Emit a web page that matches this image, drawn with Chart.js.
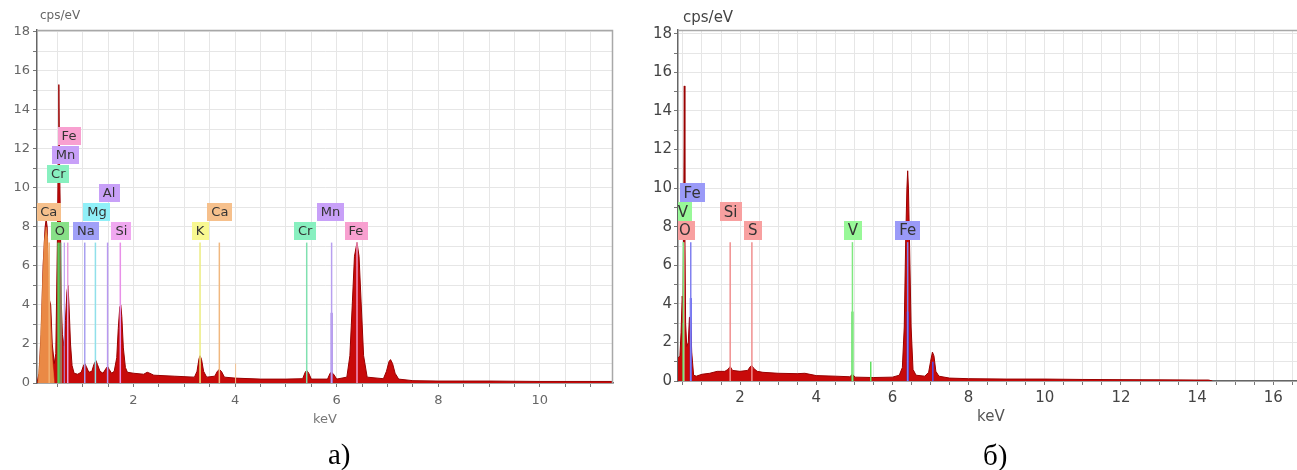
<!DOCTYPE html>
<html>
<head>
<meta charset="utf-8">
<script src="https://cdn.jsdelivr.net/npm/chart.js@4.4.1/dist/chart.umd.min.js"></script>
<style>
  html, body { margin: 0; padding: 0; background: #fff; overflow: hidden; width: 1297px; height: 470px; }
  .panel { position: absolute; top: 0; height: 430px; }
  #boxA { left: 0; width: 640px; }
  #boxB { left: 645px; width: 660px; }
  .txt { position: absolute; font-family: "DejaVu Sans", sans-serif; white-space: nowrap; line-height: 1; }
  .cap { position: absolute; font-family: "Liberation Serif", serif; font-size: 29px; line-height: 29px; color: #000; }
</style>
</head>
<body>
<div id="boxA" class="panel"><canvas id="chartA"></canvas></div>
<div id="boxB" class="panel"><canvas id="chartB"></canvas></div>
<div class="txt" style="left:40px;top:9px;font-size:12px;color:#666">cps/eV</div>
<div class="txt" style="left:683px;top:10px;font-size:15px;color:#444">cps/eV</div>
<div class="txt" style="left:313px;top:412px;font-size:13px;color:#777">keV</div>
<div class="txt" style="left:977px;top:409px;font-size:15px;color:#555">keV</div>
<div class="cap" style="left:328px;top:440px">а)</div>
<div class="cap" style="left:983px;top:441px">б)</div>
<script>
  // spectrum a) : [keV, cps/eV]
  const spectrumA = [
    [0.10, 0], [0.14, 0.5], [0.18, 2.5], [0.22, 6.0], [0.26, 8.0], [0.28, 8.4], [0.30, 8.0],
    [0.32, 5.5], [0.34, 4.3], [0.37, 4.0], [0.40, 2.0], [0.44, 1.0], [0.47, 1.5], [0.50, 7.0],
    [0.52, 12.0], [0.53, 15.3], [0.54, 12.0], [0.56, 8.5], [0.58, 4.0], [0.60, 2.5], [0.63, 1.9],
    [0.66, 3.2], [0.69, 4.7], [0.71, 5.0], [0.73, 4.0], [0.76, 2.0], [0.79, 0.9], [0.83, 0.5],
    [0.90, 0.45], [0.97, 0.55], [1.01, 0.85], [1.04, 1.0], [1.07, 0.85], [1.12, 0.55],
    [1.18, 0.6], [1.22, 0.95], [1.26, 1.15], [1.29, 0.95], [1.34, 0.6], [1.40, 0.5], [1.46, 0.75],
    [1.49, 0.85], [1.52, 0.7], [1.57, 0.5], [1.62, 0.6], [1.67, 1.3], [1.70, 2.8], [1.73, 3.9],
    [1.75, 4.0], [1.77, 3.4], [1.80, 1.8], [1.84, 0.8], [1.88, 0.55], [2.00, 0.5], [2.20, 0.45],
    [2.27, 0.55], [2.32, 0.5], [2.40, 0.4], [2.80, 0.35], [3.20, 0.3], [3.25, 0.6], [3.29, 1.25],
    [3.31, 1.4], [3.34, 1.2], [3.38, 0.6], [3.44, 0.3], [3.60, 0.35], [3.65, 0.6], [3.69, 0.7],
    [3.73, 0.6], [3.79, 0.3], [4.00, 0.25], [4.50, 0.2], [5.00, 0.2], [5.33, 0.22], [5.38, 0.55],
    [5.41, 0.65], [5.45, 0.5], [5.50, 0.2], [5.82, 0.2], [5.87, 0.5], [5.90, 0.55], [5.94, 0.45],
    [6.00, 0.2], [6.20, 0.3], [6.26, 1.4], [6.31, 4.2], [6.35, 6.5], [6.40, 7.2], [6.44, 6.5],
    [6.48, 4.2], [6.53, 1.4], [6.60, 0.3], [6.92, 0.22], [6.98, 0.6], [7.03, 1.1], [7.06, 1.2],
    [7.10, 1.0], [7.15, 0.5], [7.22, 0.2], [7.50, 0.12], [8.00, 0.1], [9.00, 0.1], [10.00, 0.08],
    [11.44, 0.08]
  ];
  // fitted low-energy peak shown in orange on a)
  const overlayA = [
    [0.12, 0], [0.16, 1.5], [0.20, 4.5], [0.24, 7.2], [0.28, 8.0], [0.31, 7.4],
    [0.34, 5.0], [0.37, 3.0], [0.40, 1.2], [0.44, 0]
  ];
  // spectrum б)
  const spectrumB = [
    [0.37, 1.2], [0.42, 1.3], [0.45, 2.5], [0.48, 4.4], [0.50, 4.0], [0.52, 8.0], [0.535, 15.3],
    [0.55, 8.0], [0.57, 3.0], [0.60, 1.8], [0.64, 2.0], [0.67, 3.3], [0.70, 3.3], [0.73, 1.5],
    [0.78, 0.3], [0.85, 0.25], [1.00, 0.35], [1.20, 0.4], [1.40, 0.5], [1.60, 0.5], [1.68, 0.6],
    [1.74, 0.75], [1.80, 0.55], [2.00, 0.5], [2.20, 0.55], [2.27, 0.75], [2.31, 0.8], [2.36, 0.65],
    [2.45, 0.5], [2.60, 0.45], [3.00, 0.4], [3.50, 0.38], [3.70, 0.4], [4.00, 0.28], [4.50, 0.25],
    [4.88, 0.22], [4.95, 0.35], [5.02, 0.2], [5.50, 0.18], [6.00, 0.2], [6.18, 0.3], [6.26, 0.7],
    [6.31, 2.8], [6.35, 7.5], [6.38, 10.0], [6.40, 10.9], [6.42, 10.0], [6.45, 7.0], [6.49, 2.8],
    [6.54, 0.6], [6.62, 0.3], [6.85, 0.25], [6.95, 0.45], [7.00, 1.0], [7.05, 1.5], [7.09, 1.3],
    [7.14, 0.5], [7.22, 0.25], [7.50, 0.15], [8.00, 0.12], [9.00, 0.1], [10.00, 0.1], [11.00, 0.08],
    [12.00, 0.07], [13.00, 0.06], [14.00, 0.05], [14.30, 0.05], [14.40, 0]
  ];

  // element lines: [keV, top, colour, width]
  const linesA = [
    [0.34, 7.2, '#f2b070', 1.5], [0.525, 7.2, '#58c858', 2.5], [0.573, 7.2, '#70e0a8', 1],
    [0.637, 7.2, '#b090f0', 1], [0.705, 7.2, '#e8a0e0', 1.5], [1.04, 7.2, '#a8a0f0', 1.5],
    [1.25, 7.2, '#90e0ea', 1.5], [1.49, 7.2, '#b898f0', 1.5], [1.74, 7.2, '#e890e8', 1.5],
    [3.31, 7.2, '#ecec80', 1.5], [3.69, 7.2, '#f0b880', 1.5], [4.01, 1.0, '#f0c090', 1],
    [5.41, 7.2, '#80e0b0', 1.5], [5.90, 7.2, '#b8a0f0', 1.5], [5.90, 3.6, '#8a60e0', 2],
    [6.40, 7.2, '#f098c8', 1.5]
  ];
  const linesB = [
    [0.51, 7.2, '#80e880', 1.5], [0.51, 3.0, '#40d040', 1.5], [0.525, 7.2, '#f09090', 1.5],
    [0.705, 7.2, '#8080f0', 1.5], [0.705, 4.3, '#4040f0', 2], [1.74, 7.2, '#f09090', 1.5],
    [2.31, 7.2, '#f09090', 1.5], [4.95, 7.2, '#80e880', 1.5], [4.95, 3.6, '#30d030', 2],
    [5.43, 1.0, '#60e060', 1.5], [6.40, 7.2, '#8080f0', 1.5], [6.40, 3.6, '#3030f0', 2],
    [7.06, 1.0, '#5050f0', 1.5]
  ];

  // element labels: [text, centre keV, row, colour]
  const labelsA = [
    ['Ca', 0.33, 2, '#f6c08c'], ['O', 0.55, 1, '#88e088'], ['Cr', 0.52, 4, '#88f0c0'],
    ['Mn', 0.66, 5, '#c8a0f8'], ['Fe', 0.73, 6, '#f8a0d0'], ['Na', 1.06, 1, '#a0a0f8'],
    ['Mg', 1.28, 2, '#90f0f8'], ['Al', 1.52, 3, '#c8a0f8'], ['Si', 1.76, 1, '#f0a8f0'],
    ['K', 3.31, 1, '#f8f890'], ['Ca', 3.70, 2, '#f6c08c'], ['Cr', 5.38, 1, '#88f0c0'],
    ['Mn', 5.88, 2, '#c8a0f8'], ['Fe', 6.38, 1, '#f8a0d0']
  ];
  const labelsB = [
    ['Fe', 0.74, 3, '#9a9af8'], ['V', 0.50, 2, '#98f898'], ['O', 0.55, 1, '#f8a0a0'],
    ['Si', 1.75, 2, '#f8a0a0'], ['S', 2.33, 1, '#f8a0a0'], ['V', 4.96, 1, '#98f898'],
    ['Fe', 6.40, 1, '#9a9af8']
  ];

  const yTickLabels = [0, 2, 4, 6, 8, 10, 12, 14, 16, 18];
  const xTickLabelsA = [2, 4, 6, 8, 10];
  const xTickLabelsB = [2, 4, 6, 8, 10, 12, 14, 16];

  const toXY = pts => pts.map(([x, y]) => ({ x, y }));

  function lineSets(lines) {
    return lines.map(([e, top, color, w]) => ({
      data: [{ x: e, y: 0 }, { x: e, y: top }],
      borderColor: color,
      borderWidth: w,
      pointRadius: 0,
      fill: false,
      order: 1
    }));
  }

  const labelPlugin = {
    id: 'elementLabels',
    afterDatasetsDraw(chart, args, opts) {
      const { ctx, chartArea, scales } = chart;
      ctx.save();
      ctx.beginPath();
      ctx.rect(chartArea.left, chartArea.top, chartArea.right - chartArea.left, chartArea.bottom - chartArea.top);
      ctx.clip();
      ctx.font = opts.font;
      ctx.textAlign = 'center';
      ctx.textBaseline = 'middle';
      for (const [text, e, row, color] of opts.labels) {
        const cx = scales.x.getPixelForValue(e);
        const cy = scales.y.getPixelForValue(7.8 + (row - 1) * 0.975);
        const w = ctx.measureText(text).width + opts.pad;
        ctx.fillStyle = color;
        ctx.fillRect(Math.round(cx - w / 2), Math.round(cy - opts.h / 2), Math.round(w), opts.h);
        ctx.fillStyle = opts.color;
        ctx.fillText(text, cx, cy + 1);
      }
      ctx.restore();
    }
  };

  const framePlugin = {
    id: 'frame',
    afterDraw(chart) {
      const { ctx, chartArea: a } = chart;
      ctx.save();
      ctx.strokeStyle = '#a8a8a8';
      ctx.lineWidth = 1.5;
      ctx.beginPath();
      ctx.moveTo(a.left, a.top + 0.5);
      ctx.lineTo(a.right - 0.5, a.top + 0.5);
      ctx.lineTo(a.right - 0.5, a.bottom);
      ctx.stroke();
      ctx.restore();
    }
  };

  function build(canvasId, cfg) {
    return new Chart(document.getElementById(canvasId), {
      type: 'line',
      data: {
        datasets: [
          ...lineSets(cfg.lines),
          ...(cfg.overlay ? [{
            data: toXY(cfg.overlay),
            borderColor: '#e89848',
            backgroundColor: 'rgba(240,160,80,0.85)',
            borderWidth: 0.5,
            pointRadius: 0,
            fill: 'origin',
            order: 5
          }] : []),
          {
            data: toXY(cfg.spectrum),
            borderColor: '#990000',
            backgroundColor: '#c80a0a',
            borderWidth: 1,
            pointRadius: 0,
            tension: 0,
            fill: 'origin',
            order: 10
          }
        ]
      },
      options: {
        responsive: true,
        maintainAspectRatio: false,
        animation: false,
        layout: { padding: { top: 30, right: cfg.padRight, left: 0, bottom: 0 } },
        plugins: {
          legend: { display: false },
          tooltip: { enabled: false },
          elementLabels: { labels: cfg.labels, font: cfg.labelFont, h: cfg.labelH, pad: cfg.labelPad, color: '#333' }
        },
        scales: {
          x: {
            type: 'linear',
            min: cfg.xMin,
            max: cfg.xMax,
            afterFit: s => { s.height = cfg.xAxisH; },
            afterBuildTicks: s => {
              const t = [];
              for (let v = 0.5; v < cfg.xMax; v += 0.5) if (v > cfg.xMin) t.push({ value: v });
              s.ticks = t;
            },
            ticks: {
              autoSkip: false,
              maxRotation: 0,
              padding: cfg.xPad,
              color: cfg.tickColor,
              font: { family: 'DejaVu Sans', size: cfg.tickSize },
              callback: v => cfg.xLabels.includes(v) ? String(v) : ''
            },
            grid: { color: '#e6e6e6', lineWidth: 1, tickLength: 4, tickColor: '#777' },
            border: { color: '#666', width: 1.5 }
          },
          y: {
            type: 'linear',
            min: 0,
            max: cfg.yMax,
            afterFit: s => { s.width = cfg.yAxisW; },
            afterBuildTicks: s => {
              const t = [];
              for (let v = 0; v <= 18; v += 1) t.push({ value: v });
              s.ticks = t;
            },
            ticks: {
              autoSkip: false,
              padding: cfg.yPad,
              color: cfg.tickColor,
              font: { family: 'DejaVu Sans', size: cfg.tickSize },
              callback: v => yTickLabels.includes(v) ? String(v) : ''
            },
            grid: { color: '#e6e6e6', lineWidth: 1, tickLength: 4, tickColor: '#777' },
            border: { color: '#666', width: 1.5 }
          }
        }
      },
      plugins: [labelPlugin, framePlugin]
    });
  }

  build('chartA', {
    spectrum: spectrumA, overlay: overlayA, lines: linesA, labels: labelsA,
    xMin: 0.1, xMax: 11.44, yMax: 18.1, xLabels: xTickLabelsA,
    padRight: 27, xAxisH: 47, yAxisW: 37, xPad: 6, yPad: 3,
    tickColor: '#666', tickSize: 13,
    labelFont: '13px "DejaVu Sans"', labelH: 18, labelPad: 8
  });

  build('chartB', {
    spectrum: spectrumB, overlay: null, lines: linesB, labels: labelsB,
    xMin: 0.37, xMax: 16.7, yMax: 18.2, xLabels: xTickLabelsB,
    padRight: 5, xAxisH: 49, yAxisW: 33, xPad: 4, yPad: 2,
    tickColor: '#444', tickSize: 15,
    labelFont: '15px "DejaVu Sans"', labelH: 19, labelPad: 8
  });
</script>
</body>
</html>
